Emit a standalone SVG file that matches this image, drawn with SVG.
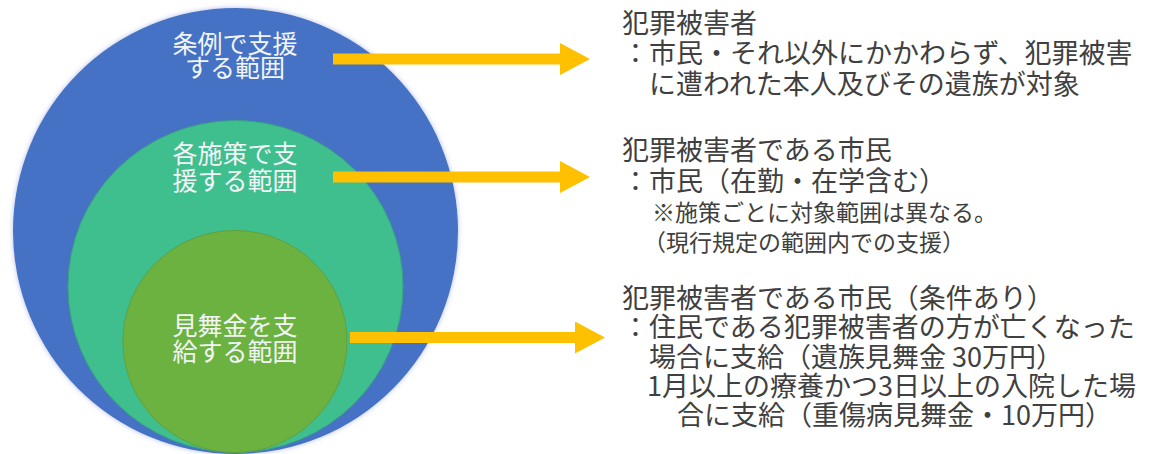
<svg xmlns="http://www.w3.org/2000/svg" width="1151" height="454" viewBox="0 0 1151 454">
  <style>
    .lbl { font-family: "Noto Sans CJK JP", "Noto Sans", sans-serif; font-size: 25px; fill: #F2F5F7; text-anchor: middle; }
    .t { font-family: "Noto Sans CJK JP", "Noto Sans", sans-serif; font-size: 27px; fill: #404040; }
    .s { font-size: 23px; }
    .arrow { stroke: #FFC000; stroke-width: 11; fill: none; }
  </style>
  <defs>
    <filter id="glow" x="-10%" y="-10%" width="120%" height="120%">
      <feDropShadow dx="0" dy="0" stdDeviation="2.5" flood-color="#7F8FD8" flood-opacity="0.6"/>
    </filter>
    <marker id="head" markerUnits="userSpaceOnUse" markerWidth="32" markerHeight="34" refX="1" refY="16" orient="auto">
      <path d="M0,0 L30,16 L0,32 Z" fill="#FFC000"/>
    </marker>
  </defs>
  <rect width="1151" height="454" fill="#FFFFFF"/>

  <g id="outer-circle">
    <ellipse cx="235.5" cy="231" rx="222.5" ry="223" fill="#4472C4" filter="url(#glow)"/>
    <text class="lbl"><tspan x="235" y="53">条例で支援</tspan><tspan x="235" y="77">する範囲</tspan></text>
  </g>
  <g id="middle-circle">
    <ellipse cx="235.5" cy="286.5" rx="167.5" ry="166" fill="#3FBE8E" stroke="#3AA382" stroke-width="1"/>
    <text class="lbl"><tspan x="235" y="163">各施策で支</tspan><tspan x="235" y="190">援する範囲</tspan></text>
  </g>
  <g id="inner-circle">
    <ellipse cx="235" cy="341.5" rx="112" ry="111" fill="#6CB240" stroke="#62A03C" stroke-width="1"/>
    <text class="lbl"><tspan x="235" y="335">見舞金を支</tspan><tspan x="235" y="361">給する範囲</tspan></text>
  </g>

  <g id="connectors">
    <line class="arrow" x1="333" y1="59" x2="561" y2="59" marker-end="url(#head)"/>
    <line class="arrow" x1="333" y1="177" x2="561" y2="177" marker-end="url(#head)"/>
    <line class="arrow" x1="350" y1="337.5" x2="576" y2="337.5" marker-end="url(#head)"/>
  </g>

  <g id="desc-1">
    <text class="t"><tspan x="622" y="33">犯罪被害者</tspan><tspan x="622" y="63">：市民・それ以外にかかわらず、犯罪被害</tspan><tspan x="649" y="94">に遭われた本人及びその遺族が対象</tspan></text>
  </g>
  <g id="desc-2">
    <text class="t"><tspan x="622" y="160">犯罪被害者である市民</tspan><tspan x="622" y="191">：市民（在勤・在学含む）</tspan><tspan class="s" x="652" y="221">※施策ごとに対象範囲は異なる。</tspan><tspan class="s" x="643" y="251">（現行規定の範囲内での支援）</tspan></text>
  </g>
  <g id="desc-3">
    <text class="t"><tspan x="622" y="308">犯罪被害者である市民（条件あり）</tspan><tspan x="622" y="337">：住民である犯罪被害者の方が亡くなった</tspan><tspan x="649" y="367">場合に支給（遺族見舞金 30万円）</tspan><tspan x="647" y="396">1月以上の療養かつ3日以上の入院した場</tspan><tspan x="677" y="425">合に支給（重傷病見舞金・10万円）</tspan></text>
  </g>
</svg>
